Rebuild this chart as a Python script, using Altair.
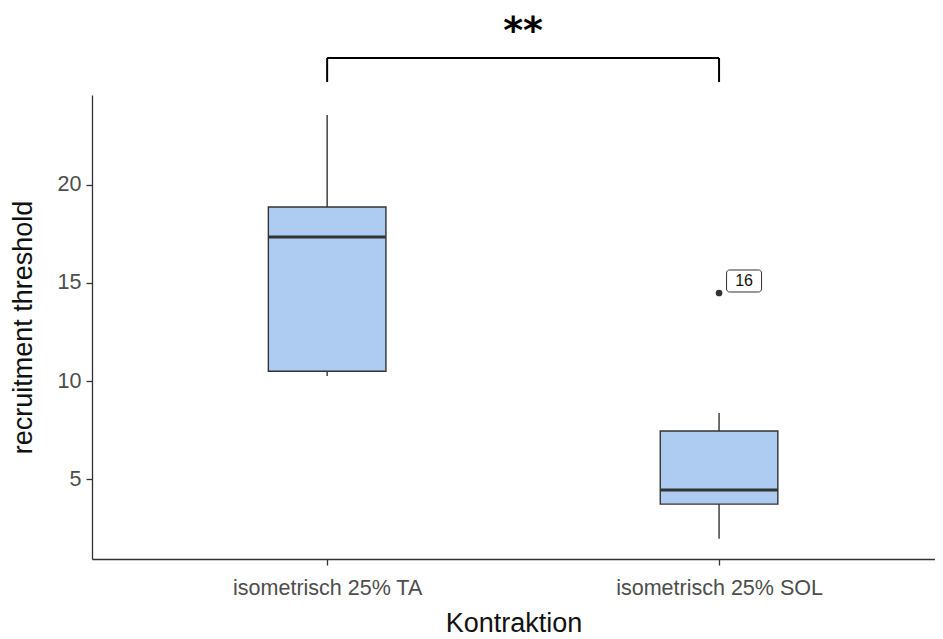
import altair as alt
import pandas as pd

categories = ["isometrisch 25% TA", "isometrisch 25% SOL"]
positions = [1, 2]
whisker_low = [10.25, 1.95]
q1 = [10.5, 3.72]
median = [17.35, 4.44]
q3 = [18.88, 7.45]
whisker_high = [23.57, 8.37]
outlier_pos = [2]
outlier_val = [14.49]
outlier_label = ["16"]
sig_label = "**"
sig_y = 26.48
sig_leg = 25.25
sig_text_y = 27.78

box_half = 0.15

df = pd.DataFrame({
    "cat": categories, "pos": positions, "lo": whisker_low, "q1": q1,
    "med": median, "q3": q3, "hi": whisker_high,
})
df["left"] = df["pos"] - box_half
df["right"] = df["pos"] + box_half

out = pd.DataFrame({"pos": outlier_pos, "val": outlier_val, "lab": outlier_label})

br = pd.DataFrame({"x1": [positions[0]], "x2": [positions[1]], "y": [sig_y], "yl": [sig_leg],
                   "xm": [(positions[0] + positions[1]) / 2], "ty": [sig_text_y], "t": [sig_label]})
legs = pd.DataFrame({"x": positions, "y": [sig_y, sig_y], "yl": [sig_leg, sig_leg]})

FONT = "Liberation Sans"
xscale = alt.Scale(domain=[0.4, 2.551], nice=False, zero=False)
yscale = alt.Scale(domain=[0.92, 24.59], nice=False, zero=False)

label_expr = ("datum.value == 1 ? '" + categories[0] + "' : '" + categories[1] + "'")

xaxis = alt.Axis(values=positions, grid=False, title="Kontraktion", labelExpr=label_expr,
                 labelFont=FONT, labelFontSize=21.5, labelColor="#4d4d4d", labelPadding=12,
                 labelLimit=500,
                 titleFont=FONT, titleFontSize=27, titleFontWeight="normal", titleColor="#111",
                 titleY=64, titleBaseline="middle",
                 domainColor="#333", tickColor="#333", tickSize=6, domainWidth=1.3, tickWidth=1.3)
yaxis = alt.Axis(values=[5, 10, 15, 20], grid=False, title="recruitment threshold",
                 labelFont=FONT, labelFontSize=21.5, labelColor="#4d4d4d", labelPadding=5,
                 titleFont=FONT, titleFontSize=27, titleFontWeight="normal", titleColor="#111",
                 titleX=-69, titleY=232, titleAngle=270, titleBaseline="middle", titleAlign="center",
                 domainColor="#333", tickColor="#333", tickSize=6, domainWidth=1.3, tickWidth=1.3)

base = alt.Chart(df)
whisk = base.mark_rule(color="#333", strokeWidth=1.4).encode(
    x=alt.X("pos:Q", scale=xscale, axis=xaxis), y=alt.Y("lo:Q", scale=yscale, axis=yaxis), y2="hi:Q")
box = base.mark_rect(fill="#aecbf2", stroke="#333", strokeWidth=1.4).encode(
    x="left:Q", x2="right:Q", y="q1:Q", y2="q3:Q")
med = base.mark_rule(color="#333", strokeWidth=3).encode(
    x="left:Q", x2="right:Q", y="med:Q")

pts = alt.Chart(out).mark_circle(color="#333", size=45, opacity=1).encode(x="pos:Q", y="val:Q")
lbox = alt.Chart(out).mark_rect(width=35, height=22, cornerRadius=3, xOffset=25, yOffset=-12,
                                fill="white", stroke="#333", strokeWidth=1).encode(x="pos:Q", y="val:Q")
ltext = alt.Chart(out).mark_text(font=FONT, fontSize=16, color="#111", dx=25, dy=-12).encode(
    x="pos:Q", y="val:Q", text="lab:N")

bar = alt.Chart(br).mark_rule(color="#000", strokeWidth=2, clip=False).encode(x="x1:Q", x2="x2:Q", y="y:Q")
leg = alt.Chart(legs).mark_rule(color="#000", strokeWidth=2, clip=False).encode(x="x:Q", y="y:Q", y2="yl:Q")
star = alt.Chart(br).mark_text(font="DejaVu Sans", fontSize=38, fontWeight="bold", color="#000",
                               baseline="middle", clip=False).encode(x="xm:Q", y="ty:Q", text="t:N")

chart = alt.layer(whisk, box, med, pts, lbox, ltext, bar, leg, star).properties(
    width=843, height=464, background="white",
    autosize=alt.AutoSizeParams(type="none"),
    padding={"left": 84, "top": 87, "right": 0, "bottom": 80},
).configure_view(stroke=None)

chart.save("out.html", embed_options={"renderer": "svg", "actions": False})
